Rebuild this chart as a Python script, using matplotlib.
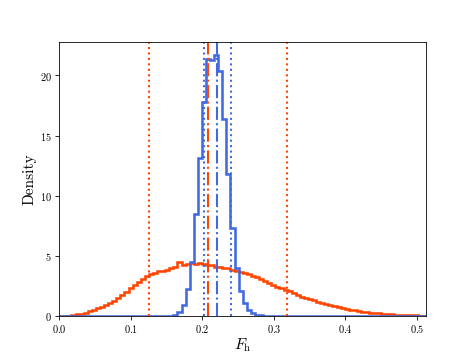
import numpy as np
import matplotlib
matplotlib.use('Agg')
import matplotlib.pyplot as plt

plt.rcParams['font.family'] = 'serif'
plt.rcParams['font.serif'] = ['cmr10', 'DejaVu Serif']
plt.rcParams['mathtext.fontset'] = 'cm'
plt.rcParams['axes.formatter.use_mathtext'] = True

# shared bin edges (90 bins)
edges = np.linspace(0.0, 0.513, 91)

# broad distribution (orange), density per bin
dens_wide = [0.0, 0.01, 0.03, 0.06, 0.12, 0.18, 0.27, 0.38, 0.48, 0.62,
             0.75, 0.92, 1.05, 1.25, 1.45, 1.75, 2.0, 2.3, 2.55, 2.85,
             3.1, 3.3, 3.45, 3.55, 3.7, 3.75, 3.85, 3.95, 4.05, 4.5,
             4.25, 4.35, 4.4, 4.35, 4.4, 4.3, 4.2, 4.2, 4.1, 4.1,
             4.0, 3.95, 3.85, 3.75, 3.65, 3.55, 3.45, 3.3, 3.2, 3.1,
             2.9, 2.75, 2.6, 2.4, 2.3, 2.15, 2.05, 1.9, 1.75, 1.6,
             1.45, 1.4, 1.3, 1.2, 1.1, 1.0, 0.9, 0.82, 0.74, 0.66,
             0.58, 0.52, 0.46, 0.41, 0.36, 0.32, 0.28, 0.24, 0.21, 0.18,
             0.15, 0.13, 0.11, 0.09, 0.08, 0.06, 0.05, 0.04, 0.03, 0.02]

# narrow distribution (blue), density per bin
dens_narrow = [0.0] * 27 + [0.03, 0.1, 0.3, 0.9, 2.2, 4.5, 8.5, 13.1, 17.8,
                            21.4, 21.3, 21.7, 20.4, 16.4, 11.8, 7.3, 4.0,
                            2.1, 1.1, 0.5, 0.25, 0.1, 0.05] + [0.0] * 40

# summary lines: (median, lower, upper)
wide_med, wide_lo, wide_hi = 0.2085, 0.1253, 0.3185
narrow_med, narrow_lo, narrow_hi = 0.220, 0.2024, 0.2396

c_wide = 'orangered'
c_narrow = 'royalblue'

fig, ax = plt.subplots(figsize=(6.4, 4.8), dpi=74)

ax.stairs(dens_wide, edges, color=c_wide, linewidth=2.5)
ax.stairs(dens_narrow, edges, color=c_narrow, linewidth=2.5)

ax.axvline(wide_med, color=c_wide, linestyle='-.', linewidth=2)
ax.axvline(wide_lo, color=c_wide, linestyle=':', linewidth=2)
ax.axvline(wide_hi, color=c_wide, linestyle=':', linewidth=2)
ax.axvline(narrow_med, color=c_narrow, linestyle='-.', linewidth=2)
ax.axvline(narrow_lo, color=c_narrow, linestyle=':', linewidth=2)
ax.axvline(narrow_hi, color=c_narrow, linestyle=':', linewidth=2)

ax.set_xlim(0, 0.513)
ax.set_ylim(0, 22.75)
ax.set_xticks([0.0, 0.1, 0.2, 0.3, 0.4, 0.5])
ax.set_xlabel(r'$F_{\rm h}$', fontsize=15, labelpad=1)
ax.set_ylabel('Density', fontsize=15)

fig.savefig('out.png')
